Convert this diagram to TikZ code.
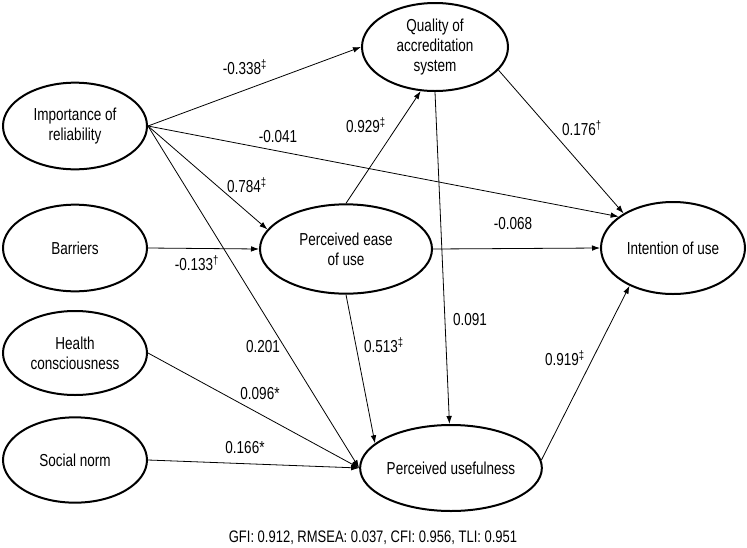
\documentclass[tikz,border=0pt]{standalone}
\usepackage{fontspec}
\setmainfont[FakeStretch=0.78]{Liberation Sans}
\usetikzlibrary{arrows.meta, shapes.geometric, positioning}

\begin{document}
\begin{tikzpicture}[
            x=0.75pt, y=-0.75pt,
            latent/.style={
                ellipse, draw, line width=1.5pt, inner sep=0pt,
                align=center, font=\fontsize{13}{15}\selectfont
            },
            path/.style={-{Latex[length=6pt, width=4.2pt]}, line width=0.6pt},
            coef/.style={font=\fontsize{13}{15}\selectfont, inner sep=1pt}
        ]
        \useasboundingbox (0, 0) rectangle (747, 547);

        % latent variables
        \node(imp)[latent, minimum width=108pt, minimum height=65pt] at (75, 126) {Importance of\\reliability};
        \node(bar)[latent, minimum width=108pt, minimum height=65pt] at (75, 248) {Barriers};
        \node(hea)[latent, minimum width=108pt, minimum height=63pt] at (75, 353) {Health\\consciousness};
        \node(soc)[latent, minimum width=108pt, minimum height=64pt] at (75, 460) {Social norm};
        \node(qua)[latent, minimum width=109.5pt, minimum height=66pt] at (435, 47) {Quality of\\accreditation\\system};
        \node(peou)[latent, minimum width=129pt, minimum height=67pt] at (346, 249) {Perceived ease\\of use};
        \node(int)[latent, minimum width=108pt, minimum height=69pt] at (673, 248) {Intention of use};
        \node(pu)[latent, minimum width=121.5pt, minimum height=64.5pt] at (451, 468) {Perceived usefulness};

        % paths
        \draw[path] (imp.east) -- (qua.west);
        \draw[path] (imp.east) -- (int.150);
        \draw[path] (imp.east) -- (peou.166);
        \draw[path] (imp.east) -- (pu.west);
        \draw[path] (bar.east) -- (peou.west);
        \draw[path] (hea.east) -- (pu.west);
        \draw[path] (soc.east) -- (pu.west);
        \draw[path] (peou.north) -- (qua.252);
        \draw[path] (peou.east) -- (int.west);
        \draw[path] (peou.south) -- (pu.162);
        \draw[path] (qua.south) -- (pu.92);
        \draw[path] (qua.-20) -- (int.145);
        \draw[path] (pu.5) -- (int.221);

        % coefficients
        \node(c1)[coef] at (245, 67) {-0.338\textsuperscript{‡}};
        \node(c2)[coef] at (278, 137) {-0.041};
        \node(c3)[coef] at (247, 185) {0.784\textsuperscript{‡}};
        \node(c4)[coef] at (263, 347) {0.201};
        \node(c5)[coef] at (197, 263) {-0.133\textsuperscript{†}};
        \node(c6)[coef] at (260, 394) {0.096*};
        \node(c7)[coef] at (245, 448) {0.166*};
        \node(c8)[coef] at (366, 125) {0.929\textsuperscript{‡}};
        \node(c9)[coef] at (513, 224) {-0.068};
        \node(c10)[coef] at (384, 345) {0.513\textsuperscript{‡}};
        \node(c11)[coef] at (470, 320) {0.091};
        \node(c12)[coef] at (582, 128) {0.176\textsuperscript{†}};
        \node(c13)[coef] at (565, 358) {0.919\textsuperscript{‡}};

        \node(fit)[font=\fontsize{12.5}{15}\selectfont] at (373, 538) {GFI: 0.912, RMSEA: 0.037, CFI: 0.956, TLI: 0.951};
    \end{tikzpicture}
\end{document}
